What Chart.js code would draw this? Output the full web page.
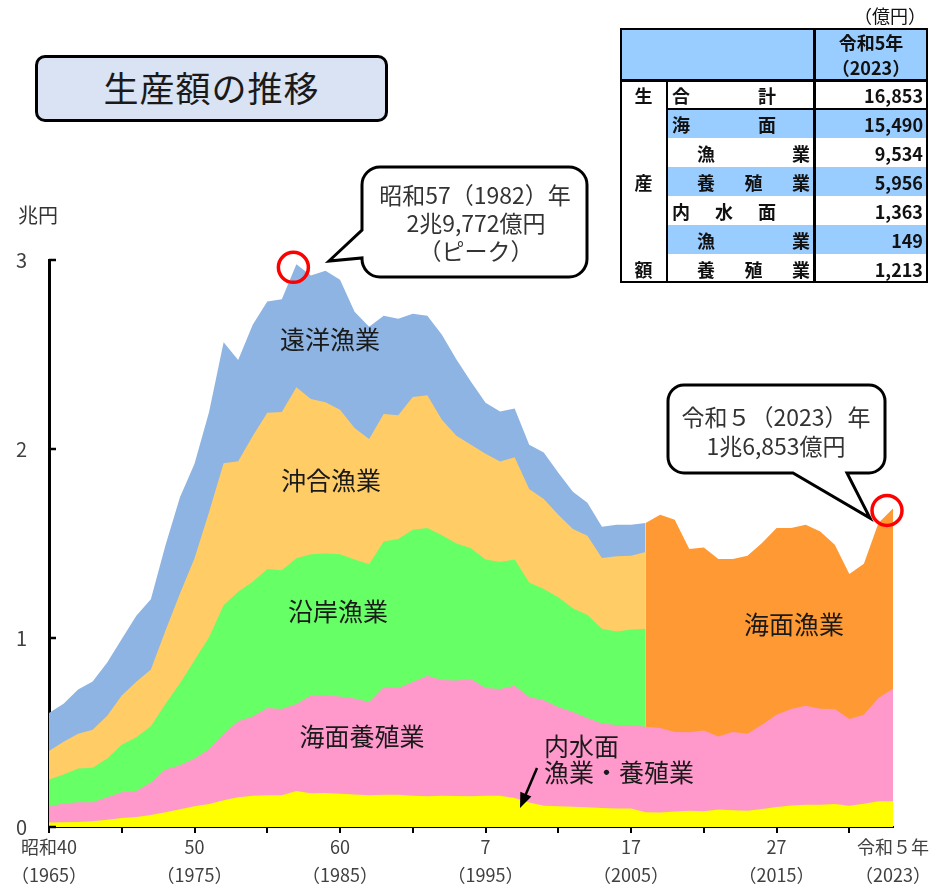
<!DOCTYPE html>
<html lang="ja">
<head>
<meta charset="utf-8">
<title>生産額の推移</title>
<script src="https://cdn.jsdelivr.net/npm/chart.js@4.4.1/dist/chart.umd.min.js"></script>
<style>
  html, body { margin: 0; padding: 0; background: #fff; }
  body {
    width: 941px; height: 890px; position: relative; overflow: hidden;
    font-family: "Noto Sans CJK JP", "Noto Sans", sans-serif; color: #1a1a1a;
  }
  #chart { position: absolute; left: 0; top: 0; }
  #title {
    position: absolute; left: 35px; top: 55px; width: 353px; height: 67px;
    box-sizing: border-box; border: 3.5px solid #000; border-radius: 10px;
    background: #DAE3F3; font-size: 35px; line-height: 58px; text-align: center;
    letter-spacing: 1px; color: #1a1a1a;
  }
  .abs { position: absolute; }
  .tb { font-size: 18px; font-weight: bold; color: #111; line-height: 1; }
</style>
</head>
<body>
<canvas id="chart" width="941" height="890"></canvas>
<div id="title">生産額の推移</div>
<div id="table"></div>

<script>
// 年（昭和40年〜令和5年）
const years = [
  1965, 1966, 1967, 1968, 1969, 1970, 1971, 1972, 1973, 1974,
  1975, 1976, 1977, 1978, 1979, 1980, 1981, 1982, 1983, 1984,
  1985, 1986, 1987, 1988, 1989, 1990, 1991, 1992, 1993, 1994,
  1995, 1996, 1997, 1998, 1999, 2000, 2001, 2002, 2003, 2004,
  2005, 2006, 2007, 2008, 2009, 2010, 2011, 2012, 2013, 2014,
  2015, 2016, 2017, 2018, 2019, 2020, 2021, 2022, 2023
];

// 生産額（億円）
// 内水面漁業・養殖業（1965〜2023）
const inland = [
  240, 250, 270, 310, 390, 470, 530, 630, 780, 940,
  1100, 1220, 1410, 1570, 1650, 1680, 1680, 1900, 1780, 1800,
  1760, 1720, 1680, 1700, 1710, 1650, 1630, 1660, 1640, 1630,
  1650, 1660, 1530, 1300, 1130, 1100, 1070, 1040, 1000, 980,
  980, 780, 770, 820, 860, 830, 920, 880, 860, 950,
  1060, 1140, 1180, 1180, 1220, 1130, 1230, 1360, 1363
];
// 海面養殖業（1965〜2023）
const seaCulture = [
  840, 1000, 1040, 1000, 1180, 1370, 1370, 1720, 2260, 2330,
  2530, 2900, 3530, 4020, 4190, 4620, 4560, 4610, 5180, 5160,
  5150, 5080, 4940, 5700, 5640, 6020, 6370, 6120, 6110, 6200,
  5700, 5640, 5950, 5580, 5570, 5250, 5010, 4730, 4470, 4420,
  4420, 4520, 4470, 4210, 4150, 4280, 3870, 4150, 4080, 4460,
  4880, 5100, 5240, 5080, 5020, 4580, 4710, 5470, 5956
];
// 沿岸漁業（1965〜2006）
const coastal = [
  1430, 1530, 1790, 1830, 2060, 2510, 2850, 2980, 3470, 4340,
  5190, 5920, 6790, 6860, 7140, 7350, 7350, 7710, 7470, 7510,
  7520, 7360, 7280, 7700, 7890, 8060, 7820, 7650, 7250, 6920,
  6810, 6720, 6680, 6060, 5890, 5810, 5490, 5450, 5020, 4950,
  5050, 5190
];
// 沖合漁業（1965〜2006）
const offshore = [
  1510, 1730, 1840, 2000, 2250, 2610, 2940, 3000, 3880, 4740,
  5400, 6630, 7520, 6900, 7710, 8270, 8370, 9050, 8220, 8000,
  7650, 6950, 6630, 6750, 6540, 7020, 7020, 6120, 5700, 5480,
  5590, 5320, 5400, 4940, 4760, 4360, 4200, 4190, 3740, 3970,
  3900, 4060
];
// 遠洋漁業（1965〜2006）
const distant = [
  2010, 2010, 2330, 2560, 2820, 2990, 3490, 3720, 4510, 5100,
  5000, 5290, 6400, 5360, 5880, 5880, 5960, 6502, 6530, 6960,
  6880, 6150, 5940, 5200, 5110, 4410, 4210, 4500, 4030, 3330,
  2700, 2640, 2580, 2350, 2460, 2230, 1970, 1750, 1660, 1670,
  1640, 1530
];
// 海面漁業（2006〜2023）
const seaFishingYears = [
  2006, 2007, 2008, 2009, 2010, 2011, 2012, 2013, 2014,
  2015, 2016, 2017, 2018, 2019, 2020, 2021, 2022, 2023
];
const seaFishing = [
  10780, 11280, 11230, 9700, 9680, 9390, 9150, 9410, 9620,
  9880, 9580, 9570, 9380, 8700, 7680, 7990, 9250, 9534
];

// 目盛り
const yTicks = [0, 1, 2, 3];
const xTickMarks = [1965, 1970, 1975, 1980, 1985, 1990, 1995, 2000, 2005, 2010, 2015, 2020, 2023];
const xTickLabels = {
  1965: ['昭和40', '（1965）'],
  1975: ['50', '（1975）'],
  1985: ['60', '（1985）'],
  1995: ['7', '（1995）'],
  2005: ['17', '（2005）'],
  2015: ['27', '（2015）'],
  2023: ['令和５年', '（2023）']
};

// 表（令和5年、億円）
const tableLabels = ['合計', '海面', '漁業', '養殖業', '内水面', '漁業', '養殖業'];
const tableValues = [16853, 15490, 9534, 5956, 1363, 149, 1213];

const FONT = '"Noto Sans CJK JP", "Noto Sans", sans-serif';
Chart.defaults.font.family = FONT;

// 積み上げ（兆円）
const toCho = v => v / 10000;
const stack1 = years.map((yr, i) => inland[i]);
const stack2 = years.map((yr, i) => inland[i] + seaCulture[i]);
const stack3 = coastal.map((v, i) => stack2[i] + v);
const stack4 = offshore.map((v, i) => stack3[i] + v);
const stack5 = distant.map((v, i) => stack4[i] + v);
const seaStart = years.indexOf(seaFishingYears[0]);
const stackSea = seaFishing.map((v, i) => stack2[seaStart + i] + v);

function pts(xs, ys) {
  return ys.map((v, i) => ({ x: xs[i], y: toCho(v) }));
}

function area(label, data, color) {
  return {
    label: label,
    data: data,
    backgroundColor: color,
    borderColor: color,
    borderWidth: 0,
    pointRadius: 0,
    tension: 0,
    fill: 'origin'
  };
}

// 上の層から順に並べる（後ろのデータセットが先に描かれる）
const datasets = [
  area('内水面', pts(years, stack1), '#FFFF00'),
  area('海面養殖業', pts(years, stack2), '#FF99CC'),
  area('沿岸漁業', pts(years, stack3), '#66FF66'),
  area('沖合漁業', pts(years, stack4), '#FFCC66'),
  area('遠洋漁業', pts(years, stack5), '#8DB4E2'),
  area('海面漁業', pts(seaFishingYears, stackSea), '#FF9933')
];

// 吹き出しなどの装飾
const decor = {
  id: 'decor',
  afterDraw(chart) {
    const { ctx, scales: { x, y } } = chart;
    ctx.save();

    // y軸の内向き目盛り
    ctx.strokeStyle = '#000';
    ctx.lineWidth = 2.5;
    yTicks.forEach(v => {
      const py = y.getPixelForValue(v);
      ctx.beginPath();
      ctx.moveTo(x.left, py);
      ctx.lineTo(x.left + 7, py);
      ctx.stroke();
    });

    // 単位
    ctx.fillStyle = '#333';
    ctx.font = '20px ' + FONT;
    ctx.textAlign = 'center';
    ctx.textBaseline = 'middle';
    ctx.fillText('兆円', 38, 215);

    // 区分名
    ctx.fillStyle = '#1a1a1a';
    ctx.font = '25px ' + FONT;
    ctx.fillText('遠洋漁業', 330, 339);
    ctx.fillText('沖合漁業', 331, 480);
    ctx.fillText('沿岸漁業', 338, 611);
    ctx.fillText('海面養殖業', 362, 736);
    ctx.fillText('海面漁業', 794, 624);
    ctx.textAlign = 'left';
    ctx.fillText('内水面', 544, 746);
    ctx.fillText('漁業・養殖業', 544, 772);

    // 矢印
    ctx.strokeStyle = '#000';
    ctx.fillStyle = '#000';
    ctx.lineWidth = 2.5;
    const ax0 = 537, ay0 = 768, ax1 = 520, ay1 = 808;
    const ang = Math.atan2(ay1 - ay0, ax1 - ax0);
    ctx.beginPath();
    ctx.moveTo(ax0, ay0);
    ctx.lineTo(ax1 - 10 * Math.cos(ang), ay1 - 10 * Math.sin(ang));
    ctx.stroke();
    ctx.beginPath();
    ctx.moveTo(ax1, ay1);
    ctx.lineTo(ax1 - 15 * Math.cos(ang) + 6 * Math.sin(ang), ay1 - 15 * Math.sin(ang) - 6 * Math.cos(ang));
    ctx.lineTo(ax1 - 15 * Math.cos(ang) - 6 * Math.sin(ang), ay1 - 15 * Math.sin(ang) + 6 * Math.cos(ang));
    ctx.closePath();
    ctx.fill();

    // 吹き出し1（ピーク）
    ctx.lineWidth = 3;
    ctx.strokeStyle = '#000';
    ctx.fillStyle = '#fff';
    let x0 = 362, y0 = 167, x1 = 587, y1 = 277, r = 18;
    ctx.beginPath();
    ctx.moveTo(x0 + r, y0);
    ctx.lineTo(x1 - r, y0);
    ctx.arcTo(x1, y0, x1, y0 + r, r);
    ctx.lineTo(x1, y1 - r);
    ctx.arcTo(x1, y1, x1 - r, y1, r);
    ctx.lineTo(x0 + r, y1);
    ctx.arcTo(x0, y1, x0, y1 - r, r);
    ctx.lineTo(x0, 258);
    ctx.lineTo(329, 261);
    ctx.lineTo(x0, 230);
    ctx.lineTo(x0, y0 + r);
    ctx.arcTo(x0, y0, x0 + r, y0, r);
    ctx.closePath();
    ctx.fill();
    ctx.stroke();

    // 吹き出し2（令和5年）
    x0 = 668; y0 = 385; x1 = 885; y1 = 473; r = 16;
    ctx.beginPath();
    ctx.moveTo(x0 + r, y0);
    ctx.lineTo(x1 - r, y0);
    ctx.arcTo(x1, y0, x1, y0 + r, r);
    ctx.lineTo(x1, y1 - r);
    ctx.arcTo(x1, y1, x1 - r, y1, r);
    ctx.lineTo(847, y1);
    ctx.lineTo(870, 518);
    ctx.lineTo(793, y1);
    ctx.lineTo(x0 + r, y1);
    ctx.arcTo(x0, y1, x0, y1 - r, r);
    ctx.lineTo(x0, y0 + r);
    ctx.arcTo(x0, y0, x0 + r, y0, r);
    ctx.closePath();
    ctx.fill();
    ctx.stroke();

    ctx.fillStyle = '#333';
    ctx.font = '23px ' + FONT;
    ctx.textAlign = 'center';
    ctx.fillText('昭和57（1982）年', 475, 195);
    ctx.fillText('2兆9,772億円', 476, 223);
    ctx.fillText('（ピーク）', 476, 251);
    ctx.fillText('令和５（2023）年', 776, 417);
    ctx.fillText('1兆6,853億円', 776, 446);

    // 赤丸
    ctx.strokeStyle = '#FF0000';
    ctx.lineWidth = 3.5;
    const peakIdx = years.indexOf(1982);
    const peak = toCho(stack5[peakIdx]);
    ctx.beginPath();
    ctx.arc(x.getPixelForValue(1982) - 3, y.getPixelForValue(peak) + 3, 15, 0, Math.PI * 2);
    ctx.stroke();
    const last = toCho(stackSea[stackSea.length - 1]);
    ctx.beginPath();
    ctx.arc(x.getPixelForValue(2023) - 6, y.getPixelForValue(last) + 2, 15, 0, Math.PI * 2);
    ctx.stroke();

    ctx.restore();
  }
};

new Chart(document.getElementById('chart').getContext('2d'), {
  type: 'line',
  data: { datasets: datasets },
  options: {
    responsive: false,
    animation: false,
    layout: { padding: { top: 260, right: 48, left: 0, bottom: 0 } },
    plugins: {
      legend: { display: false },
      tooltip: { enabled: false }
    },
    scales: {
      x: {
        type: 'linear',
        min: 1965,
        max: 2023,
        afterBuildTicks: s => { s.ticks = xTickMarks.map(v => ({ value: v })); },
        afterFit: s => { s.height = 63; },
        grid: {
          display: true,
          drawOnChartArea: false,
          drawTicks: true,
          tickLength: 6,
          lineWidth: 2,
          color: ctx => (ctx.tick && ctx.tick.value === 2023) ? 'rgba(0,0,0,0)' : '#000'
        },
        border: { display: true, color: '#000', width: 2 },
        ticks: {
          autoSkip: false,
          maxRotation: 0,
          padding: 0,
          color: '#404040',
          font: { size: 18, lineHeight: 1.56 },
          callback: v => xTickLabels[v] || ''
        }
      },
      y: {
        min: 0,
        max: 3,
        afterBuildTicks: s => { s.ticks = yTicks.map(v => ({ value: v })); },
        afterFit: s => { s.width = 49; },
        grid: { display: false, drawTicks: false },
        border: { display: true, color: '#000', width: 3 },
        ticks: {
          padding: 22,
          color: '#404040',
          font: { size: 20 }
        }
      }
    }
  },
  plugins: [decor]
});

// 右上の表
(function buildTable() {
  const box = document.getElementById('table');
  const html = [];
  const add = (s) => html.push(s);
  const L = 620, T = 28, W = 308, H = 255;
  const c1 = 667, c2 = 814, R = L + W;
  const headB = 80;
  const rowH = (T + H - headB) / tableLabels.length;
  const blueRows = [1, 3, 5];
  const indentRows = [2, 3, 5, 6];

  add(`<div class="abs tb" style="right:${941 - 926}px;top:6px;font-weight:normal;font-size:18px;">（億円）</div>`);
  // header
  add(`<div class="abs" style="left:${L}px;top:${T}px;width:${W}px;height:${headB - T}px;background:#99CCFF;"></div>`);
  // blue rows
  blueRows.forEach(i => {
    add(`<div class="abs" style="left:${c1}px;top:${headB + i * rowH}px;width:${R - c1}px;height:${rowH}px;background:#99CCFF;"></div>`);
  });
  // lines
  add(`<div class="abs" style="left:${L}px;top:${T}px;width:${W}px;height:${H}px;box-sizing:border-box;border:2.5px solid #000;"></div>`);
  add(`<div class="abs" style="left:${L}px;top:${headB - 1}px;width:${W}px;height:2.5px;background:#000;"></div>`);
  add(`<div class="abs" style="left:${c2 - 1}px;top:${T}px;width:2.5px;height:${H}px;background:#000;"></div>`);
  add(`<div class="abs" style="left:${c1 - 1}px;top:${headB}px;width:2px;height:${T + H - headB}px;background:#000;"></div>`);
  add(`<div class="abs" style="left:${c1}px;top:${headB + rowH - 1}px;width:${R - c1}px;height:2px;background:#000;"></div>`);

  // header text
  add(`<div class="abs tb" style="left:${c2}px;width:${R - c2}px;top:33px;text-align:center;">令和5年</div>`);
  add(`<div class="abs tb" style="left:${c2}px;width:${R - c2}px;top:58px;text-align:center;">（2023）</div>`);

  // 生産額
  ['生', '産', '額'].forEach((ch, k) => {
    const row = [0, 3, 6][k];
    add(`<div class="abs tb" style="left:${L}px;width:${c1 - L}px;top:${headB + row * rowH + rowH / 2 - 9}px;text-align:center;">${ch}</div>`);
  });

  tableLabels.forEach((lab, i) => {
    const ind = indentRows.includes(i);
    const lx = ind ? 697 : 672;
    const rx = ind ? 810 : 776;
    const cy = headB + i * rowH + rowH / 2 - 9;
    const chars = lab.split('').map(c => `<span>${c}</span>`).join('');
    add(`<div class="abs tb" style="left:${lx}px;width:${rx - lx}px;top:${cy}px;display:flex;justify-content:space-between;">${chars}</div>`);
    add(`<div class="abs tb" style="left:${c2}px;width:${R - c2 - 5}px;top:${cy}px;text-align:right;">${tableValues[i].toLocaleString('en-US')}</div>`);
  });

  box.innerHTML = html.join('');
})();
</script>
</body>
</html>
